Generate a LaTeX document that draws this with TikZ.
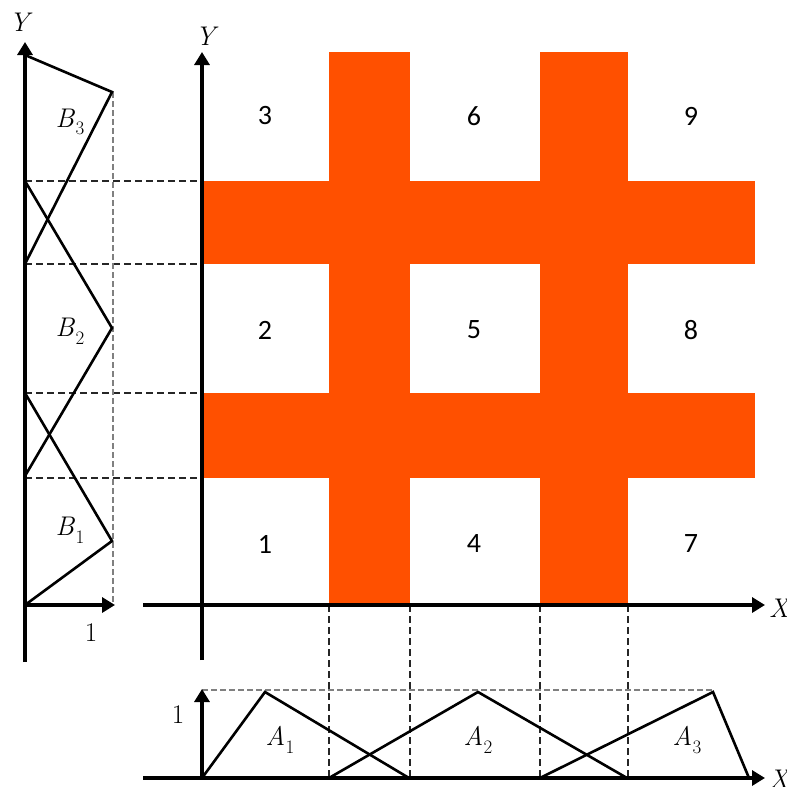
\documentclass[tikz,border=0pt]{standalone}
\usepackage{fontspec}
\newfontfamily\numfont{Carlito}
\usetikzlibrary{arrows.meta}
\definecolor{hashorange}{RGB}{255,80,0}
\definecolor{guidegray}{RGB}{128,128,128}
\newcommand{\vsub}[2]{\textit{#1}\kern0.5pt\raisebox{-0.28em}{\fontsize{19}{20}\selectfont #2}}
\tikzset{
  axis/.style={line width=4pt,-{Triangle[length=13pt,width=15pt]}},
  mf/.style={line width=2.6pt,line join=miter},
  blackdash/.style={line width=1.6pt,dash pattern=on 7pt off 4pt,black!85},
  graydash/.style={line width=1.3pt,dash pattern=on 6pt off 3pt,guidegray},
  bar/.style={fill=hashorange,draw=none},
  cellnum/.style={font=\numfont\fontsize{28}{30}\selectfont,inner sep=0pt},
  mlabel/.style={font=\fontsize{27}{29}\selectfont,inner sep=0pt},
}
\begin{document}
\begin{tikzpicture}[x=1pt,y=-1pt]
\useasboundingbox (0,0) rectangle (787,787);
% orange hash
\fill[bar] (329,52) rectangle (410,605);
\fill[bar] (540,52) rectangle (628,605);
\fill[bar] (202,181) rectangle (755,264);
\fill[bar] (202,393) rectangle (755,478);
% coordinates
\coordinate (lyb) at (25,662);
\coordinate (lyt) at (25,42);
\coordinate (lxe) at (115,605);
\coordinate (lo) at (25,605);
\coordinate (myb) at (202,660);
\coordinate (myt) at (202,52);
\coordinate (mxs) at (143,605);
\coordinate (mxe) at (765,605);
\coordinate (bxs) at (143,778);
\coordinate (bxe) at (765,778);
\coordinate (bo) at (202,778);
\coordinate (byt) at (202,689);
% dashed guides left
\foreach \yy/\nm in {181/a,264/b,393/c,478/d}{
  \coordinate (l\nm) at (25,\yy);
  \coordinate (r\nm) at (202,\yy);
  \draw[blackdash] (l\nm) -- (r\nm);
}
\coordinate (gt) at (113,92);
\coordinate (gb) at (113,605);
\draw[graydash] (gt) -- (gb);
% dashed verticals bottom
\foreach \xx/\nm in {329/a,410/b,540/c,628/d}{
  \coordinate (t\nm) at (\xx,605);
  \coordinate (u\nm) at (\xx,778);
  \draw[blackdash] (t\nm) -- (u\nm);
}
\coordinate (hgl) at (202,690);
\coordinate (hgr) at (713,690);
\draw[graydash] (hgl) -- (hgr);
% left membership functions
\coordinate (b3a) at (25,55);
\coordinate (b3p) at (112,92);
\coordinate (b3b) at (25,264);
\coordinate (b2a) at (25,181);
\coordinate (b2p) at (112,328);
\coordinate (b2b) at (25,476);
\coordinate (b1a) at (25,393);
\coordinate (b1p) at (112,541);
\coordinate (b1b) at (25,605);
\draw[mf] (b3a) -- (b3p) -- (b3b);
\draw[mf] (b2a) -- (b2p) -- (b2b);
\draw[mf] (b1a) -- (b1p) -- (b1b);
% bottom membership functions
\coordinate (a1a) at (202,778);
\coordinate (a1p) at (265,692);
\coordinate (a1b) at (409,778);
\coordinate (a2a) at (329,778);
\coordinate (a2p) at (478,692);
\coordinate (a2b) at (627,778);
\coordinate (a3a) at (540,778);
\coordinate (a3p) at (713,692);
\coordinate (a3b) at (749,778);
\draw[mf] (a1a) -- (a1p) -- (a1b);
\draw[mf] (a2a) -- (a2p) -- (a2b);
\draw[mf] (a3a) -- (a3p) -- (a3b);
% axes
\draw[axis] (lyb) -- (lyt);
\draw[axis] (lo) -- (lxe);
\draw[axis] (myb) -- (myt);
\draw[axis] (mxs) -- (mxe);
\draw[axis] (bxs) -- (bxe);
\draw[axis] (bo) -- (byt);
% axis labels
\node[mlabel] (ylab1) at (21,22) {\textit{Y}};
\node[mlabel] (ylab2) at (207,36) {\textit{Y}};
\node[mlabel] (xlab1) at (780,608) {\textit{X}};
\node[mlabel] (xlab2) at (780,779) {\textit{X}};
\node[mlabel] (one1) at (91,633) {1};
\node[mlabel] (one2) at (178,715) {1};
% set labels
\node[mlabel] (B3) at (70,122) {\vsub{B}{3}};
\node[mlabel] (B2) at (70,331) {\vsub{B}{2}};
\node[mlabel] (B1) at (70,530) {\vsub{B}{1}};
\node[mlabel] (A1) at (280,740) {\vsub{A}{1}};
\node[mlabel] (A2) at (478,740) {\vsub{A}{2}};
\node[mlabel] (A3) at (687,740) {\vsub{A}{3}};
% cell numbers
\node[cellnum] (n3) at (265,116) {3};
\node[cellnum] (n6) at (474,116) {6};
\node[cellnum] (n9) at (691,116) {9};
\node[cellnum] (n2) at (265,330) {2};
\node[cellnum] (n5) at (474,330) {5};
\node[cellnum] (n8) at (691,330) {8};
\node[cellnum] (n1) at (265,544) {1};
\node[cellnum] (n4) at (474,544) {4};
\node[cellnum] (n7) at (691,544) {7};
\end{tikzpicture}
\end{document}
